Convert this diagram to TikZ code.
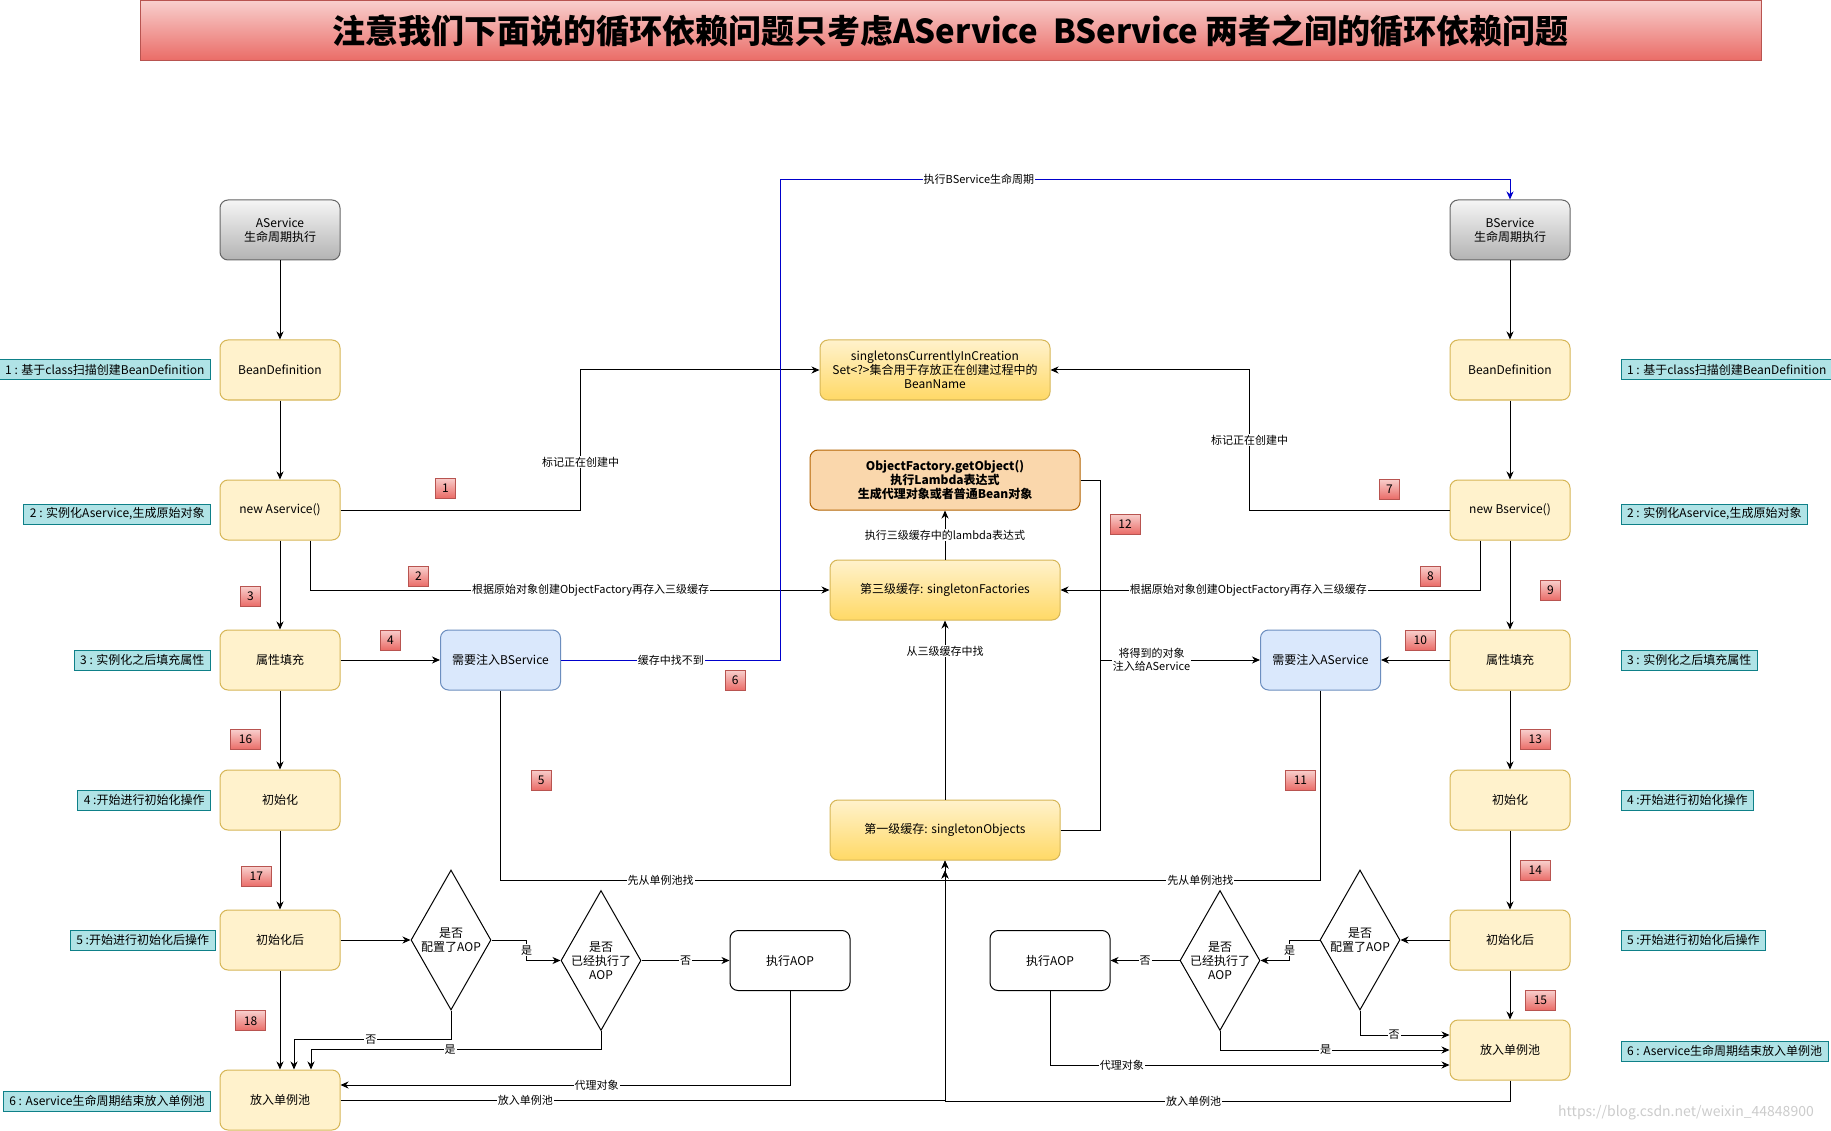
\documentclass[tikz,border=0pt]{standalone}
\usepackage{fontspec}
\setmainfont{Noto Sans CJK SC}
\usepackage{tikz}
\usetikzlibrary{arrows,arrows.meta,positioning,calc,shapes.geometric}

\definecolor{grayhi}{HTML}{F5F5F5}
\definecolor{graylo}{HTML}{B3B3B3}
\definecolor{grayedge}{HTML}{666666}
\definecolor{yellowfill}{HTML}{FFF2CC}
\definecolor{yellowdeep}{HTML}{FFD966}
\definecolor{yellowedge}{HTML}{D6B656}
\definecolor{orangefill}{HTML}{FAD7AC}
\definecolor{orangeedge}{HTML}{B46504}
\definecolor{bluefill}{HTML}{DAE8FC}
\definecolor{blueedge}{HTML}{6C8EBF}
\definecolor{notefill}{HTML}{B0E3E6}
\definecolor{noteedge}{HTML}{0E8088}
\definecolor{redhi}{HTML}{F8CECC}
\definecolor{redlo}{HTML}{EA6B66}
\definecolor{rededge}{HTML}{B85450}
\definecolor{linkblue}{HTML}{0000CC}

\newcommand{\boxfont}{\fontsize{12}{14}\selectfont}
\newcommand{\tagfont}{\fontsize{11}{13}\selectfont}

\begin{document}
\begin{tikzpicture}[x=1pt,y=-1pt,line width=1pt,
lifebox/.style={rounded corners=8pt,draw=grayedge,top color=grayhi,bottom color=graylo,minimum width=120pt,minimum height=60pt,align=center,font=\boxfont},
stagebox/.style={rounded corners=8pt,draw=yellowedge,fill=yellowfill,minimum width=120pt,minimum height=60pt,align=center,font=\boxfont},
cachebox/.style={rounded corners=8pt,draw=yellowedge,top color=yellowfill,bottom color=yellowdeep,minimum width=230pt,minimum height=60pt,align=center,font=\boxfont},
factorybox/.style={rounded corners=8pt,draw=orangeedge,fill=orangefill,minimum width=270pt,minimum height=60pt,align=center,font=\boxfont\bfseries},
injectbox/.style={rounded corners=8pt,draw=blueedge,fill=bluefill,minimum width=120pt,minimum height=60pt,font=\boxfont},
aopbox/.style={rounded corners=8pt,draw=black,fill=white,minimum width=120pt,minimum height=60pt,font=\boxfont},
decide/.style={diamond,draw=black,fill=white,minimum width=80pt,minimum height=140pt,inner sep=0pt},
notebox/.style={draw=noteedge,fill=notefill,minimum height=20pt,inner xsep=6pt,inner ysep=0pt,font=\boxfont},
badge/.style={draw=rededge,top color=redhi,bottom color=redlo,minimum width=#1,minimum height=20pt,inner sep=0pt,font=\boxfont},
badge/.default=20pt,
headbox/.style={draw=rededge,top color=redhi,bottom color=redlo,minimum width=1621pt,minimum height=60pt,font=\fontsize{33}{38}\selectfont\bfseries},
edge/.style={->,>={Stealth[length=8pt,width=7pt,inset=2.5pt]}},
blueline/.style={edge,draw=linkblue},
plain/.style={},
tag/.style={fill=white,inner sep=1pt,align=center,font=\tagfont}]

\useasboundingbox (0,0) rectangle (1831,1131);
\fill[white] (0,0) rectangle (1831,1131);

\node(title)[headbox] at (950.5,31) {注意我们下面说的循环依赖问题只考虑AService\ \ BService 两者之间的循环依赖问题};

% AService side
\node(alife)[lifebox] at (280,230) {AService\\生命周期执行};
\node(abean)[stagebox] at (280,370) {BeanDefinition};
\node(anew)[stagebox] at (280,510) {new Aservice()};
\node(afill)[stagebox] at (280,660) {属性填充};
\node(ainit)[stagebox] at (280,800) {初始化};
\node(aafter)[stagebox] at (280,940) {初始化后};
\node(apool)[stagebox] at (280,1100) {放入单例池};

\node(anote1)[notebox,anchor=east] at (211,370) {1 : 基于class扫描创建BeanDefinition};
\node(anote2)[notebox,anchor=east] at (211,514) {2 : 实例化Aservice,生成原始对象};
\node(anote3)[notebox,anchor=east] at (211,660) {3 : 实例化之后填充属性};
\node(anote4)[notebox,anchor=east] at (211,800) {4 :开始进行初始化操作};
\node(anote5)[notebox,anchor=east] at (215.5,940) {5 :开始进行初始化后操作};
\node(anote6)[notebox,anchor=east] at (211,1101) {6 : Aservice生命周期结束放入单例池};

% BService side
\node(blife)[lifebox] at (1510,230) {BService\\生命周期执行};
\node(bbean)[stagebox] at (1510,370) {BeanDefinition};
\node(bnew)[stagebox] at (1510,510) {new Bservice()};
\node(bfill)[stagebox] at (1510,660) {属性填充};
\node(binit)[stagebox] at (1510,800) {初始化};
\node(bafter)[stagebox] at (1510,940) {初始化后};
\node(bpool)[stagebox] at (1510,1050) {放入单例池};

\node(bnote1)[notebox,anchor=west] at (1620.5,370) {1 : 基于class扫描创建BeanDefinition};
\node(bnote2)[notebox,anchor=west] at (1620.5,514) {2 : 实例化Aservice,生成原始对象};
\node(bnote3)[notebox,anchor=west] at (1620.5,660) {3 : 实例化之后填充属性};
\node(bnote4)[notebox,anchor=west] at (1620.5,800) {4 :开始进行初始化操作};
\node(bnote5)[notebox,anchor=west] at (1620.5,940) {5 :开始进行初始化后操作};
\node(bnote6)[notebox,anchor=west] at (1620.5,1051) {6 : Aservice生命周期结束放入单例池};

% caches
\node(creating)[cachebox] at (935,370) {singletonsCurrentlyInCreation\\Set<?>集合用于存放正在创建过程中的\\BeanName};
\node(factory)[factorybox] at (945,480) {ObjectFactory.getObject()\\执行Lambda表达式\\生成代理对象或者普通Bean对象};
\node(third)[cachebox] at (945,590) {第三级缓存: singletonFactories};
\node(first)[cachebox] at (945,830) {第一级缓存: singletonObjects};

\node(needb)[injectbox] at (500.5,660) {需要注入BService};
\node(needa)[injectbox] at (1320.5,660) {需要注入AService};

% AOP checks
\node(aaop)[decide] at (451,940) {};
\node(aaoptext)[align=center,font=\boxfont] at (aaop) {是否\\配置了AOP};
\node(adone)[decide] at (601,960.5) {};
\node(adonetext)[align=center,font=\boxfont] at (adone) {是否\\已经执行了\\AOP};
\node(aexec)[aopbox] at (790,960.5) {执行AOP};

\node(baop)[decide] at (1360,940) {};
\node(baoptext)[align=center,font=\boxfont] at (baop) {是否\\配置了AOP};
\node(bdone)[decide] at (1220,960.5) {};
\node(bdonetext)[align=center,font=\boxfont] at (bdone) {是否\\已经执行了\\AOP};
\node(bexec)[aopbox] at (1050,960.5) {执行AOP};

% step numbers
\node(s1)[badge] at (445.5,488) {1};
\node(s2)[badge] at (418.5,576.5) {2};
\node(s3)[badge] at (250.5,596.5) {3};
\node(s4)[badge] at (390.5,640) {4};
\node(s5)[badge] at (541.3,780) {5};
\node(s6)[badge] at (735.3,680.5) {6};
\node(s7)[badge] at (1389.5,489.3) {7};
\node(s8)[badge] at (1430.5,576.3) {8};
\node(s9)[badge] at (1550.5,590.5) {9};
\node(s10)[badge=30pt] at (1420.3,640.5) {10};
\node(s11)[badge=30pt] at (1300.4,780.5) {11};
\node(s12)[badge=30pt] at (1125,524.3) {12};
\node(s13)[badge=30pt] at (1535.3,739.6) {13};
\node(s14)[badge=30pt] at (1535.3,870.7) {14};
\node(s15)[badge=30pt] at (1540.4,1000.4) {15};
\node(s16)[badge=30pt] at (245.5,739.6) {16};
\node(s17)[badge=30pt] at (256.4,876.7) {17};
\node(s18)[badge=30pt] at (250.5,1020.8) {18};

\node(mark)[text=black!20,font=\fontsize{14}{16}\selectfont] at (1686,1113) {https://blog.csdn.net/weixin\_44848900};

% A lifecycle
\draw [edge] (alife) to (abean);
\draw [edge] (abean) to (anew);
\draw [edge] (anew) to (afill);
\draw [edge] (afill) to (ainit);
\draw [edge] (ainit) to (aafter);
\draw [edge] (aafter) to (apool);

% B lifecycle
\draw [edge] (blife) to (bbean);
\draw [edge] (bbean) to (bnew);
\draw [edge] (bnew) to (bfill);
\draw [edge] (bfill) to (binit);
\draw [edge] (binit) to (bafter);
\draw [edge] (bafter) to (bpool);

\draw [edge] (anew.east) -- ++(240,0) |- node[tag,pos=0.17]{标记正在创建中} (creating.west);
\draw [edge] (bnew.west) -- ++(-200,0) |- node[tag,pos=0.25]{标记正在创建中} (creating.east);
\draw [edge] ([xshift=30pt]anew.south) |- node[tag,pos=0.77]{根据原始对象创建ObjectFactory再存入三级缓存} (third.west);
\draw [edge] ([xshift=-30pt]bnew.south) |- node[tag,pos=0.776]{根据原始对象创建ObjectFactory再存入三级缓存} (third.east);

\draw [edge] (afill) to (needb);
\draw [edge] (bfill) to (needa);
\draw [blueline] (needb.east) -- node[tag]{缓存中找不到} ++(219.5,0) |- node[tag,pos=0.636]{执行BService生命周期} ([yshift=20pt]blife.north) -- (blife.north);

\draw [edge] (needb.south) |- node[tag,pos=0.68]{先从单例池找} ([yshift=-20pt]first.south) -- (first.south);
\draw [edge] (needa.south) |- node[tag,pos=0.66]{先从单例池找} ([yshift=-20pt]first.south) -- (first.south);
\draw [edge] (first) to node[tag,pos=0.83]{从三级缓存中找} (third);
\draw [edge] (third) to node[tag]{执行三级缓存中的lambda表达式} (factory);
\draw [plain] (factory.east) -| ([xshift=40pt]first.east);
\draw [edge] (first.east) -- ++(40,0) |- node[tag,pos=0.66]{将得到的对象\\注入给AService} (needa.west);

\draw [edge,shorten >=10pt] (apool.east) -| node[tag,pos=0.153]{放入单例池} (first.south);
\draw [edge,shorten >=10pt] (bpool.south) -- ++(0,21) -| node[tag,pos=0.28]{放入单例池} (first.south);

% A post processing
\draw [edge] (aafter) to (aaop);
\draw [edge] (aaop.east) -- ++(35,0) |- node[tag,pos=0.25]{是} (adone.west);
\draw [edge] (adone) to node[tag]{否} (aexec);
\draw [edge] (aexec.south) |- node[tag,pos=0.715]{代理对象} ([yshift=15pt]apool.east);
\draw [edge] (aaop.south) |- node[tag,pos=0.755]{否} ([xshift=14pt,yshift=30pt]apool.north) -- ([xshift=14pt]apool.north);
\draw [edge] (adone.south) |- node[tag,pos=0.76]{是} ([xshift=31pt,yshift=20pt]apool.north) -- ([xshift=31pt]apool.north);

% B post processing
\draw [edge] (bafter) to (baop);
\draw [edge] (baop.west) -- ++(-30,0) |- node[tag,pos=0.25]{是} (bdone.east);
\draw [edge] (bdone) to node[tag]{否} (bexec);
\draw [edge] (bexec.south) |- node[tag,pos=0.59]{代理对象} ([yshift=-15pt]bpool.west);
\draw [edge] (baop.south) |- node[tag,pos=0.69]{否} ([yshift=15pt]bpool.west);
\draw [edge] (bdone.south) |- node[tag,pos=0.73]{是} (bpool.west);
\end{tikzpicture}
\end{document}
